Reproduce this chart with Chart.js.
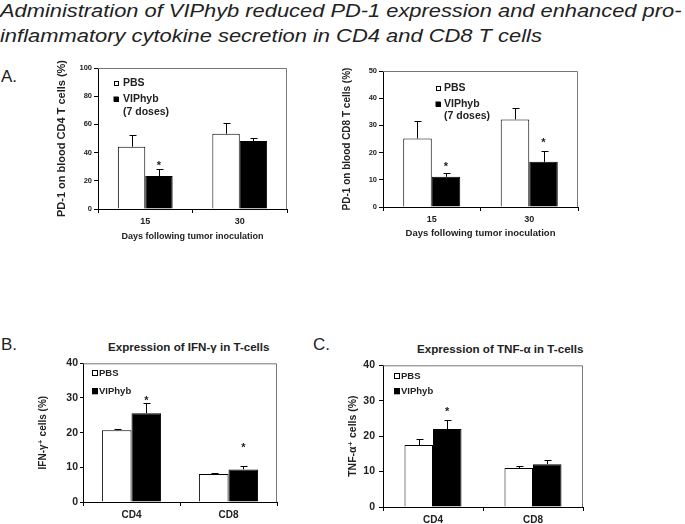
<!DOCTYPE html>
<html>
<head>
<meta charset="utf-8">
<script src="https://cdn.jsdelivr.net/npm/chart.js@4.4.1/dist/chart.umd.min.js"></script>
<style>
  body { margin:0; width:685px; height:524px; background:#fff; position:relative; overflow:hidden;
         font-family:'Liberation Sans', Arial, sans-serif; color:#222; }
  .t { position:absolute; white-space:nowrap; transform-origin:0 0; }
  canvas { position:absolute; }
</style>
</head>
<body>
<div class="t fit" data-w="682" style="left:0;top:-2px;font:italic 19px/25px 'Liberation Sans',Arial,sans-serif">Administration of VIPhyb reduced PD-1 expression and enhanced pro-</div>
<div class="t fit" data-w="542" style="left:0;top:23px;font:italic 19px/25px 'Liberation Sans',Arial,sans-serif">inflammatory cytokine secretion in CD4 and CD8 T cells</div>

<div class="t" style="left:1px;top:68px;font:17px/17px 'Liberation Sans',Arial,sans-serif">A.</div>
<div class="t" style="left:1px;top:336px;font:17px/17px 'Liberation Sans',Arial,sans-serif">B.</div>
<div class="t" style="left:313px;top:336px;font:17px/17px 'Liberation Sans',Arial,sans-serif">C.</div>

<div class="t fit" data-w="161" style="left:108px;top:341px;font:bold 10.5px/12px 'Liberation Sans',Arial,sans-serif">Expression of IFN-γ in T-cells</div>
<div class="t fit" data-w="167" style="left:417px;top:343px;font:bold 10.5px/12px 'Liberation Sans',Arial,sans-serif">Expression of TNF-α in T-cells</div>

<canvas id="cd4Chart" width="330" height="187" style="left:0;top:55px"></canvas>
<canvas id="cd8Chart" width="300" height="184" style="left:335px;top:55px"></canvas>
<canvas id="ifnChart" width="300" height="167" style="left:0;top:355px"></canvas>
<canvas id="tnfChart" width="300" height="172" style="left:340px;top:355px"></canvas>

<script>
const FONT = "'Liberation Sans', 'DejaVu Sans', Arial, sans-serif";

// ---- data ----
const days = ["15", "30"];
const cellTypes = ["CD4", "CD8"];
const namesA = ["PBS", "VIPhyb\n(7 doses)"];
const namesBC = ["PBS", "VIPhyb"];

// A left: PD-1 on blood CD4 T cells (%)
const cd4Ticks = [0, 20, 40, 60, 80, 100];
const cd4Pbs = [44.2, 53.4];
const cd4PbsErr = [8.3, 7.4];
const cd4Vip = [23.4, 48.2];
const cd4VipErr = [5.0, 2.1];
const cd4VipStar = [33, null];

// A right: PD-1 on blood CD8 T cells (%)
const cd8Ticks = [0, 10, 20, 30, 40, 50];
const cd8Pbs = [25.2, 32.2];
const cd8PbsErr = [6.5, 4.3];
const cd8Vip = [11.1, 16.6];
const cd8VipErr = [1.3, 4.0];
const cd8VipStar = [16.0, 24.8];

// B: IFN-gamma+ cells (%)
const ifnTicks = [0, 10, 20, 30, 40];
const ifnPbs = [20.7, 8.1];
const ifnPbsErr = [0.3, 0.2];
const ifnVip = [25.6, 9.4];
const ifnVipErr = [2.9, 1.1];
const ifnVipStar = [30.2, 16.4];

// C: TNF-alpha+ cells (%)
const tnfTicks = [0, 10, 20, 30, 40];
const tnfPbs = [17.5, 11.0];
const tnfPbsErr = [1.6, 0.6];
const tnfVip = [22.0, 12.1];
const tnfVipErr = [2.7, 1.2];
const tnfVipStar = [27.7, null];

// frame, error bars, significance stars and the in-plot legend
const decor = {
  id: 'decor',
  beforeDatasetsDraw(chart) {
    const {ctx, chartArea: a} = chart;
    ctx.save();
    ctx.strokeStyle = '#777';
    ctx.lineWidth = 1;
    ctx.beginPath();
    ctx.moveTo(a.left, a.top + 0.5);
    ctx.lineTo(a.right - 0.5, a.top + 0.5);
    ctx.lineTo(a.right - 0.5, a.bottom);
    ctx.stroke();
    ctx.restore();
  },
  afterDatasetsDraw(chart, args, opts) {
    const ctx = chart.ctx, ys = chart.scales.y, a = chart.chartArea;
    ctx.save();
    chart.data.datasets.forEach((ds, i) => {
      chart.getDatasetMeta(i).data.forEach((bar, j) => {
        const x = Math.round(bar.x) + 0.5;
        if (ds.errors && ds.errors[j] != null) {
          const top = Math.round(ys.getPixelForValue(ds.data[j] + ds.errors[j])) + 0.5;
          ctx.strokeStyle = '#000';
          ctx.lineWidth = 1;
          ctx.beginPath();
          ctx.moveTo(x, bar.y);
          ctx.lineTo(x, top);
          ctx.moveTo(x - opts.cap, top);
          ctx.lineTo(x + opts.cap + 1, top);
          ctx.stroke();
        }
        if (ds.stars && ds.stars[j] != null) {
          ctx.fillStyle = '#222';
          ctx.font = 'bold ' + opts.starSize + 'px ' + FONT;
          ctx.textAlign = 'center';
          ctx.textBaseline = 'middle';
          ctx.fillText('*', bar.x, ys.getPixelForValue(ds.stars[j]) + opts.starSize * 0.3);
        }
      });
    });

    // legend inside the plot
    const lg = opts.legend;
    ctx.font = 'bold ' + lg.size + 'px ' + FONT;
    ctx.textAlign = 'left';
    ctx.textBaseline = 'middle';
    chart.data.datasets.forEach((ds, i) => {
      const cx = a.left + lg.x, cy = a.top + lg.y + i * lg.gap;
      const b = lg.box;
      ctx.fillStyle = ds.backgroundColor;
      ctx.fillRect(cx - b / 2, cy - b / 2, b, b);
      ctx.strokeStyle = '#000';
      ctx.lineWidth = 1;
      ctx.strokeRect(Math.round(cx - b / 2) + 0.5, Math.round(cy - b / 2) + 0.5, b - 1, b - 1);
      ctx.fillStyle = '#222';
      ds.label.split('\n').forEach((line, k) => {
        ctx.fillText(line, cx + lg.dx, cy + k * lg.lineH);
      });
    });
    ctx.restore();
  }
};

function barChart(id, cats, names, pbs, pbsErr, vip, vipErr, vipStar, ticks, yTitle, xTitle, look) {
  return new Chart(document.getElementById(id), {
    type: 'bar',
    data: {
      labels: cats,
      datasets: [
        {label: names[0], data: pbs, errors: pbsErr, backgroundColor: '#fff',
         borderColor: '#000', borderWidth: 1},
        {label: names[1], data: vip, errors: vipErr, stars: vipStar, backgroundColor: '#000',
         borderColor: '#000', borderWidth: 1}
      ]
    },
    options: {
      responsive: false,
      animation: false,
      devicePixelRatio: 1,
      layout: {padding: look.padding},
      datasets: {bar: {categoryPercentage: look.catPct, barPercentage: 1}},
      plugins: {
        legend: {display: false},
        tooltip: {enabled: false},
        decor: {cap: 3, starSize: 11, legend: look.legend}
      },
      scales: {
        x: {
          afterFit: s => { s.height = look.xHeight; },
          offset: true,
          border: {color: '#000', width: 1},
          grid: {offset: true, drawOnChartArea: false, color: '#000', tickLength: 4},
          ticks: {color: '#222', padding: look.xPad, maxRotation: 0,
                  font: {family: FONT, size: look.xTick, weight: 'bold'}},
          title: {display: !!xTitle, text: xTitle, color: '#222', padding: 0,
                  font: {family: FONT, size: look.xTitle, weight: 'bold'}}
        },
        y: {
          min: ticks[0],
          max: ticks[ticks.length - 1],
          afterFit: s => { s.width = look.yWidth; },
          afterBuildTicks: s => { s.ticks = ticks.map(v => ({value: v})); },
          border: {color: '#000', width: 1},
          grid: {drawOnChartArea: false, color: '#000', tickLength: look.yTl},
          ticks: {color: '#222', padding: look.yPad,
                  font: {family: FONT, size: look.yTick, weight: 'bold'}},
          title: {display: true, text: yTitle, color: '#222', padding: 0,
                  font: {family: FONT, size: look.yTitle, weight: 'bold'}}
        }
      }
    },
    plugins: [decor]
  });
}

barChart('cd4Chart', days, namesA, cd4Pbs, cd4PbsErr, cd4Vip, cd4VipErr, cd4VipStar, cd4Ticks,
  'PD-1 on blood CD4 T cells (%)', 'Days following tumor inoculation', {
    padding: {left: 55, top: 13, right: 43, bottom: 0}, yWidth: 43, xHeight: 33, catPct: 0.58,
    xTick: 9, xTitle: 9, yTick: 7.5, yTitle: 11, xPad: 3, yPad: 2, yTl: 4,
    legend: {x: 18, y: 15, gap: 16, lineH: 13, box: 5, dx: 7, size: 10.5}
  });

barChart('cd8Chart', days, namesA, cd8Pbs, cd8PbsErr, cd8Vip, cd8VipErr, cd8VipStar, cd8Ticks,
  'PD-1 on blood CD8 T cells (%)', 'Days following tumor inoculation', {
    padding: {left: 6, top: 16, right: 57, bottom: 0}, yWidth: 42, xHeight: 32, catPct: 0.585,
    xTick: 9, xTitle: 9.5, yTick: 7.5, yTitle: 10, xPad: 3, yPad: 2, yTl: 4,
    legend: {x: 55, y: 17, gap: 16, lineH: 12.5, box: 5, dx: 6, size: 10.5}
  });

barChart('ifnChart', cellTypes, namesBC, ifnPbs, ifnPbsErr, ifnVip, ifnVipErr, ifnVipStar, ifnTicks,
  'IFN-γ⁺ cells (%)', '', {
    padding: {left: 37, top: 7, right: 23, bottom: 0}, yWidth: 46, xHeight: 20, catPct: 0.61,
    xTick: 10, xTitle: 10, yTick: 10.5, yTitle: 10, xPad: 3, yPad: 2, yTl: 3,
    legend: {x: 12, y: 10, gap: 18, lineH: 12, box: 6, dx: 4, size: 9.5}
  });

barChart('tnfChart', cellTypes, namesBC, tnfPbs, tnfPbsErr, tnfVip, tnfVipErr, tnfVipStar, tnfTicks,
  'TNF-α⁺ cells (%)', '', {
    padding: {left: 7, top: 8, right: 57, bottom: 0}, yWidth: 36, xHeight: 20, catPct: 0.57,
    xTick: 10, xTitle: 10, yTick: 10.5, yTitle: 10.5, xPad: 3, yPad: 4, yTl: 4,
    legend: {x: 14, y: 11, gap: 15, lineH: 12, box: 6, dx: 4, size: 9.5}
  });

document.querySelectorAll('.fit').forEach(el => {
  el.style.transform = 'scaleX(' + (+el.dataset.w / el.offsetWidth) + ')';
});
</script>
</body>
</html>
